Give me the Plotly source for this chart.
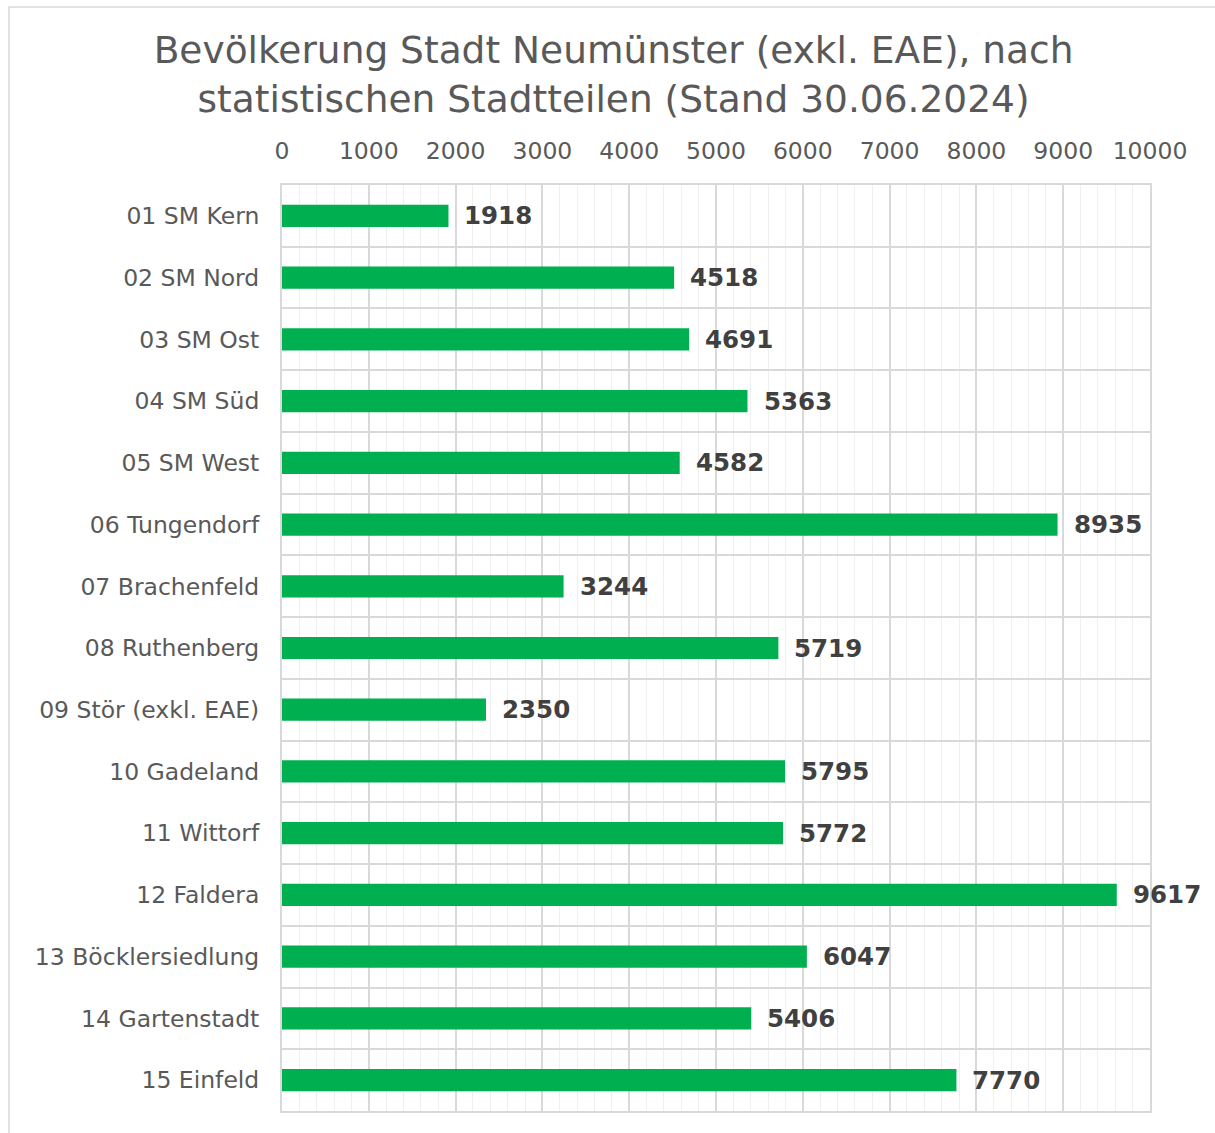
import plotly.graph_objects as go

categories = ["01 SM Kern", "02 SM Nord", "03 SM Ost", "04 SM Süd", "05 SM West",
              "06 Tungendorf", "07 Brachenfeld", "08 Ruthenberg", "09 Stör (exkl. EAE)",
              "10 Gadeland", "11 Wittorf", "12 Faldera", "13 Böcklersiedlung",
              "14 Gartenstadt", "15 Einfeld"]
values = [1918, 4518, 4691, 5363, 4582, 8935, 3244, 5719, 2350, 5795, 5772, 9617, 6047, 5406, 7770]
x_ticks = [0, 1000, 2000, 3000, 4000, 5000, 6000, 7000, 8000, 9000, 10000]
title = "Bevölkerung Stadt Neumünster (exkl. EAE), nach<br>statistischen Stadtteilen (Stand 30.06.2024)"

FONT = "DejaVu Sans"
GRID = "#d9d9d9"

fig = go.Figure(go.Bar(
    x=values, y=categories, orientation="h",
    marker=dict(color="#00B050", line=dict(width=0)),
    width=0.36, hoverinfo="skip",
))

annotations = [dict(x=v, y=c, xref="x", yref="y", text=f"<b>{v}</b>", showarrow=False,
                    xanchor="left", xshift=14, font=dict(family=FONT, size=24.5, color="#404040"))
               for c, v in zip(categories, values)]

fig.update_layout(
    width=1215, height=1133,
    margin=dict(l=282, r=65, t=185, b=22),
    paper_bgcolor="white", plot_bgcolor="white",
    title=dict(text=title, x=0.505, xanchor="center", y=0.944, yanchor="top",
               font=dict(family=FONT, size=37.5, color="#595959")),
    showlegend=False,
    annotations=annotations,
    shapes=[dict(type="rect", xref="paper", yref="paper", x0=-0.3145, x1=1.3, y0=-0.2, y1=1.1922,
                 line=dict(color="#d9d9d9", width=1.5), fillcolor="rgba(0,0,0,0)", layer="below")],
    xaxis=dict(side="top", range=[0, 10000], tickvals=x_ticks, ticktext=[str(t) for t in x_ticks],
               showgrid=True, gridcolor=GRID, gridwidth=2,
               minor=dict(dtick=200, showgrid=True, gridcolor="#efefef", gridwidth=1, ticks=""),
               ticks="", ticklabelstandoff=15, zeroline=False,
               showline=True, mirror=True, linecolor=GRID, linewidth=2,
               tickfont=dict(family=FONT, size=23.5, color="#595959")),
    yaxis=dict(autorange="reversed", type="category", tickson="boundaries",
               showgrid=True, gridcolor=GRID, gridwidth=2, ticks="", ticklabelstandoff=16,
               showline=True, mirror=True, linecolor=GRID, linewidth=2,
               tickfont=dict(family=FONT, size=23.5, color="#595959")),
)

fig.write_html("out.html", config={"displayModeBar": False},
               post_script="document.body.style.margin='0';")
